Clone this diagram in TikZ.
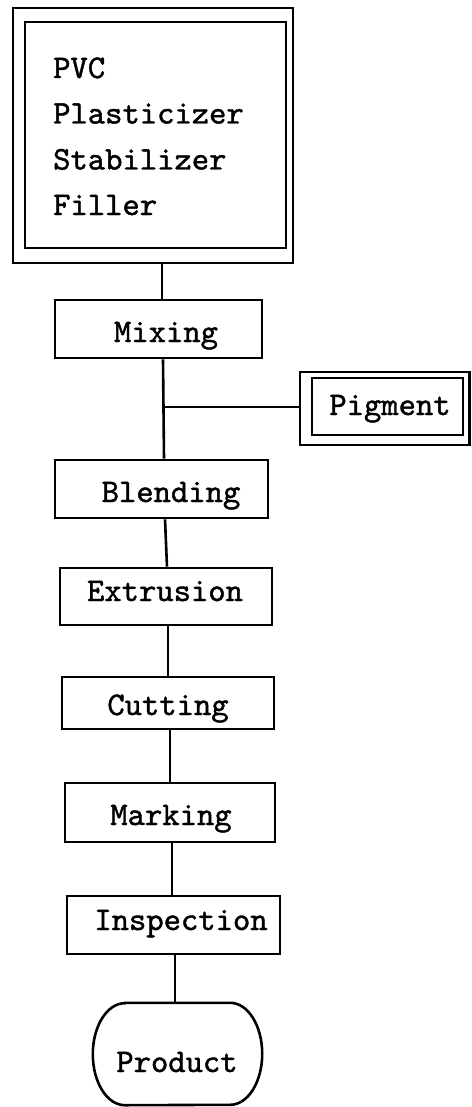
\documentclass[tikz,border=0pt]{standalone}
\usepackage{fontspec}
\newfontfamily\typer{lmmono10-regular.otf}[FakeBold=1.3]
\begin{document}
\begin{tikzpicture}[x=1pt,y=-1pt,
  ink/.style={line width=2.6pt},
  stepbox/.style={draw, ink, rectangle, inner sep=0pt},
  word/.style={font=\typer\fontsize{33}{46}\selectfont, inner sep=0pt, anchor=base},
  listword/.style={word, anchor=base west},
]
\useasboundingbox (0,0) rectangle (471,1107);

% raw materials: double-framed box
\node[stepbox, minimum width=280pt, minimum height=255pt] (srcout) at (153,135.5) {};
\node[stepbox, minimum width=261pt, minimum height=226pt] (srcin) at (155.5,135) {};
\node[listword] (pvc) at (53,78) {PVC};
\node[listword] (plast) at (53,123.5) {Plasticizer};
\node[listword] (stab) at (53,169.5) {Stabilizer};
\node[listword] (fill) at (53,215) {Filler};

% process steps
\node[stepbox, minimum width=207pt, minimum height=58pt] (mix) at (158.5,329) {};
\node[word] (mixt) at (166,342) {Mixing};
\node[stepbox, minimum width=213pt, minimum height=58pt] (blend) at (161.5,489) {};
\node[word] (blendt) at (171,502) {Blending};
\node[stepbox, minimum width=212pt, minimum height=57pt] (extr) at (166,596.5) {};
\node[word] (extrt) at (165,601) {Extrusion};
\node[stepbox, minimum width=212pt, minimum height=52pt] (cut) at (168,703) {};
\node[word] (cutt) at (168,715) {Cutting};
\node[stepbox, minimum width=210pt, minimum height=59pt] (mark) at (170,812.5) {};
\node[word] (markt) at (171,825) {Marking};
\node[stepbox, minimum width=213pt, minimum height=58pt] (insp) at (173.5,925) {};
\node[word] (inspt) at (181,930) {Inspection};

% pigment feed: double-framed box
\node[stepbox, minimum width=169.5pt, minimum height=73pt] (pigout) at (384.75,408.5) {};
\node[stepbox, minimum width=151pt, minimum height=57pt] (pigin) at (387.5,406.5) {};
\node[word] (pigt) at (390,415) {Pigment};

% end product: terminal shape
\node[minimum width=169pt, minimum height=102pt, inner sep=0pt] (prod) at (177.5,1054) {};
\draw[ink] ([xshift=32pt]prod.north west) -- ([xshift=-32pt]prod.north east)
  arc[start angle=90, end angle=-90, x radius=32pt, y radius=51pt]
  -- ([xshift=32pt]prod.south west)
  arc[start angle=270, end angle=90, x radius=32pt, y radius=51pt] -- cycle;
\node[word] (prodt) at (177,1072) {Product};

% flow lines
\draw[ink] ([xshift=9pt]srcout.south) -- ([xshift=3.5pt]mix.north);
\draw[ink] ([xshift=4.5pt]mix.south) -- ([xshift=2.5pt]blend.north);
\coordinate (tee) at (163.5,407);
\draw[ink] (tee) -- (tee -| pigout.west);
\draw[ink] ([xshift=3.5pt]blend.south) -- ([xshift=1pt]extr.north);
\draw[ink] ([xshift=2pt]extr.south) -- (cut.north);
\draw[ink] ([xshift=2pt]cut.south) -- (mark.north);
\draw[ink] ([xshift=2pt]mark.south) -- ([xshift=-1.5pt]insp.north);
\draw[ink] ([xshift=1.5pt]insp.south) -- ([xshift=-2.5pt]prod.north);
\end{tikzpicture}
\end{document}
